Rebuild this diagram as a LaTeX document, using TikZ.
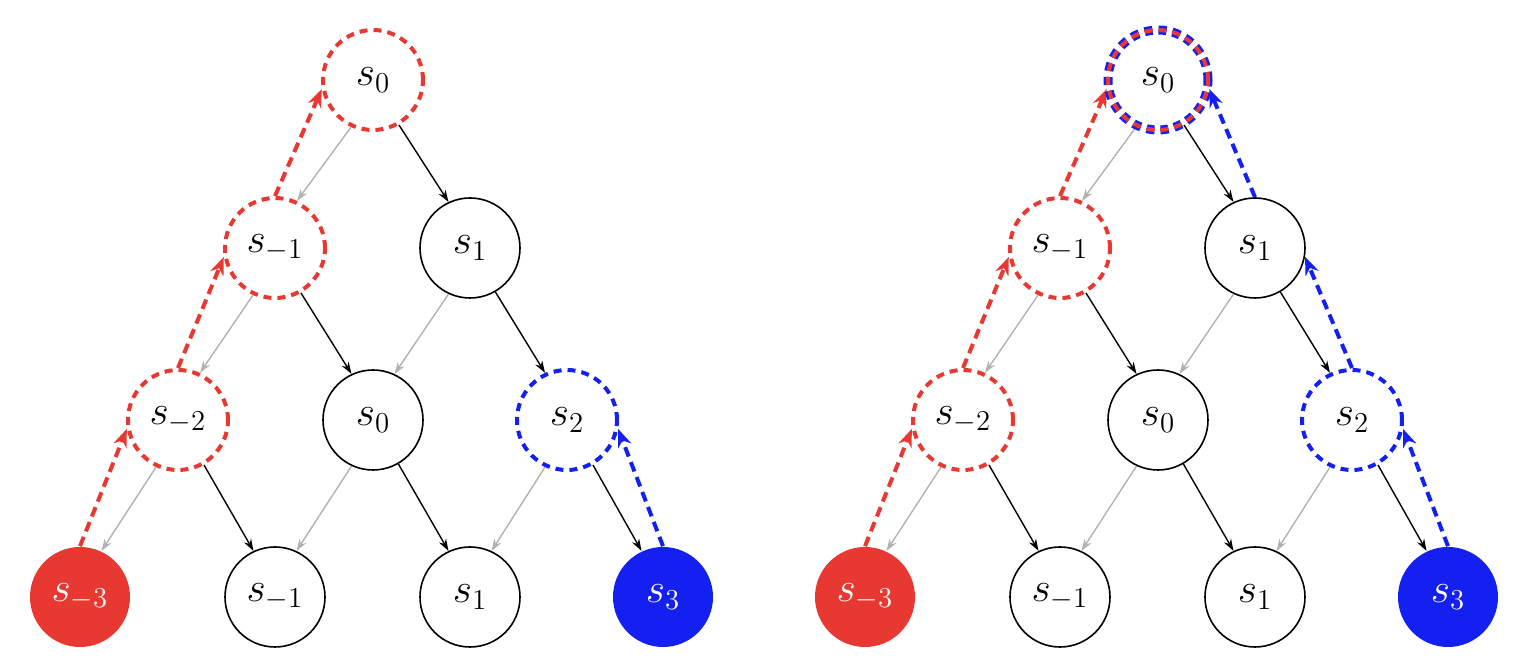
\documentclass[tikz,border=0pt]{standalone}
\usetikzlibrary{arrows.meta}
\definecolor{myred}{RGB}{232,56,50}
\definecolor{myblue}{RGB}{20,32,240}
\begin{document}
\begin{tikzpicture}[x=0.5pt,y=-0.5pt,
  st/.style={circle,draw=black,line width=0.8pt,minimum size=50pt,inner sep=0pt,font=\huge},
  rd/.style={st,draw=myred,dash pattern=on 4pt off 3pt,line width=2pt},
  bd/.style={st,draw=myblue,dash pattern=on 4pt off 3pt,line width=2pt},
  rf/.style={st,draw=none,fill=myred,text=white},
  bf/.style={st,draw=none,fill=myblue,text=white},
  gr/.style={-{Stealth[length=6pt,width=4pt]},gray!60,line width=0.7pt},
  bk/.style={-{Stealth[length=6pt,width=4pt]},black,line width=0.7pt},
  ra/.style={-{Stealth[length=9pt,width=7pt]},myred,line width=2pt,dash pattern=on 5pt off 3pt},
  ba/.style={-{Stealth[length=9pt,width=7pt]},myblue,line width=2pt,dash pattern=on 5pt off 3pt}]
\useasboundingbox (0,0) rectangle (1528,672);
\foreach \p/\dx in {L/0,R/785}{
\begin{scope}[xshift=\dx*0.5pt,name prefix=\p-]
\node[rd] (a) at (373,80) {$s_0$};
\node[rd] (b) at (275,248) {$s_{-1}$};
\node[st] (c) at (470,248) {$s_1$};
\node[rd] (d) at (178,420) {$s_{-2}$};
\node[st] (e) at (373,420) {$s_0$};
\node[bd] (f) at (567,420) {$s_2$};
\node[rf] (g) at (80,597) {$s_{-3}$};
\node[st] (h) at (275,597) {$s_{-1}$};
\node[st] (i) at (470,597) {$s_1$};
\node[bf] (j) at (663,597) {$s_3$};
\foreach \u/\v in {a/b,b/d,c/e,d/g,e/h,f/i}{
  \draw[gr] (\u.-115) -- (\v.65);}
\foreach \u/\v in {a/c,b/e,c/f,d/h,e/i,f/j}{
  \draw[bk] (\u.-60) -- (\v.115);}
\draw[ra] (g.90) -- (d.-170);
\draw[ra] (d.90) -- (b.-170);
\draw[ra] (b.90) -- (a.-170);
\draw[ba] (j.90) -- (f.-10);
\end{scope}}
\draw[ba] (R-f.90) -- (R-c.-10);
\draw[ba] (R-c.90) -- (R-a.-10);
\draw[myblue,line width=4.5pt,dash pattern=on 4pt off 3pt] (R-a) circle (25pt);
\draw[myred,line width=2pt,dash pattern=on 4pt off 3pt] (R-a) circle (25pt);
\end{tikzpicture}
\end{document}
